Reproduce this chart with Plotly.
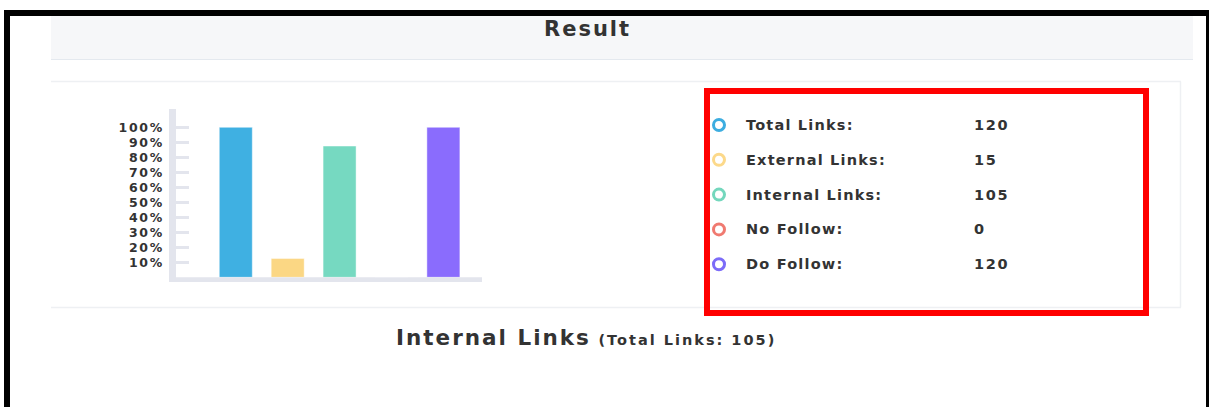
import plotly.graph_objects as go

# Link statistics
categories = ["Total Links", "External Links", "Internal Links", "No Follow", "Do Follow"]
counts = [120, 15, 105, 0, 120]
colors = ["#3fb0e2", "#fbd784", "#76d9c1", "#f07970", "#8a6cfd"]
legend_colors = ["#3dade0", "#fcd98a", "#74d7bd", "#f07a70", "#7c6cf8"]
tick_values = [10, 20, 30, 40, 50, 60, 70, 80, 90, 100]
tick_labels = ["10%", "20%", "30%", "40%", "50%", "60%", "70%", "80%", "90%", "100%"]

W, H = 1209, 407
FONT = "DejaVu Sans"
TEXT = "#333333"


def px(x):
    return x / W


def py(y):
    return 1 - y / H


def spaced(s, ls):
    return f"<span style='letter-spacing:{ls}px'>{s}</span>"


total = counts[0]
percent = [c / total * 100 for c in counts]

fig = go.Figure()
fig.add_trace(go.Bar(
    x=categories,
    y=percent,
    marker=dict(color=colors, line=dict(color="rgba(255,255,255,0.45)", width=1)),
    hoverinfo="skip",
    showlegend=False,
))

shapes = []
# page frame
shapes += [
    dict(type="rect", xref="paper", yref="paper", x0=px(4), x1=px(1209), y0=py(16), y1=py(10),
         fillcolor="black", line_width=0, layer="above"),
    dict(type="rect", xref="paper", yref="paper", x0=px(4), x1=px(10), y0=py(407), y1=py(10),
         fillcolor="black", line_width=0, layer="above"),
    dict(type="rect", xref="paper", yref="paper", x0=px(1206), x1=px(1209), y0=py(407), y1=py(10),
         fillcolor="black", line_width=0, layer="above"),
]
# card header
shapes += [
    dict(type="rect", xref="paper", yref="paper", x0=px(51), x1=px(1193), y0=py(60), y1=py(16),
         fillcolor="#f6f7f9", line_width=0, layer="below"),
    dict(type="line", xref="paper", yref="paper", x0=px(51), x1=px(1193), y0=py(59.5), y1=py(59.5),
         line=dict(color="#e4e9ef", width=1), layer="below"),
]
# inner panel borders
shapes += [
    dict(type="line", xref="paper", yref="paper", x0=px(51), x1=px(1181), y0=py(81.5), y1=py(81.5),
         line=dict(color="#eef0f3", width=1.5), layer="below"),
    dict(type="line", xref="paper", yref="paper", x0=px(1180.5), x1=px(1180.5), y0=py(81.5), y1=py(307.5),
         line=dict(color="#eef0f3", width=1.5), layer="below"),
    dict(type="line", xref="paper", yref="paper", x0=px(51), x1=px(1181), y0=py(307.5), y1=py(307.5),
         line=dict(color="#eef0f3", width=1.5), layer="below"),
]
# chart axis bars
shapes += [
    dict(type="rect", xref="paper", yref="paper", x0=px(169), x1=px(176), y0=py(282), y1=py(109),
         fillcolor="#e3e5ed", line_width=0, layer="below"),
    dict(type="rect", xref="paper", yref="paper", x0=px(169), x1=px(482), y0=py(282), y1=py(277.3),
         fillcolor="#e3e5ed", line_width=0, layer="below"),
]
# highlight box
shapes.append(dict(type="rect", xref="paper", yref="paper", x0=px(707), x1=px(1146), y0=py(313), y1=py(91),
                   line=dict(color="#ff0000", width=6), fillcolor="rgba(0,0,0,0)", layer="above"))

annotations = [
    dict(text=spaced("Result", 2), x=px(587), y=py(29), xref="paper", yref="paper", showarrow=False,
         xanchor="center", yanchor="middle", font=dict(family=FONT, size=21, color=TEXT, weight=600)),
    dict(text="<span style='font-size:21.5px;letter-spacing:2px'>Internal Links</span> "
              "<span style='font-size:14.5px;font-weight:bold;letter-spacing:2px'>(Total Links: 105)</span>",
         x=px(586), y=py(337), xref="paper", yref="paper", showarrow=False,
         xanchor="center", yanchor="middle", font=dict(family=FONT, size=21.5, color=TEXT, weight=600)),
]

row_top, row_gap = 125, 34.8
for i, (name, count, col) in enumerate(zip(categories, counts, legend_colors)):
    cy = row_top + i * row_gap
    r = 5.5
    shapes.append(dict(type="circle", xref="paper", yref="paper",
                       x0=px(719 - r), x1=px(719 + r), y0=py(cy + r), y1=py(cy - r),
                       line=dict(color=col, width=3), fillcolor="rgba(0,0,0,0)"))
    annotations.append(dict(text=spaced(name + ":", 1.2), x=px(744), y=py(cy), xref="paper", yref="paper",
                            showarrow=False, xanchor="left", yanchor="middle",
                            font=dict(family=FONT, size=14.5, color=TEXT, weight="bold")))
    annotations.append(dict(text=spaced(str(count), 1.6), x=px(972), y=py(cy), xref="paper", yref="paper",
                            showarrow=False, xanchor="left", yanchor="middle",
                            font=dict(family=FONT, size=14.5, color=TEXT, weight="bold")))

fig.update_layout(
    width=W, height=H, autosize=False,
    margin=dict(l=0, r=0, t=0, b=0),
    paper_bgcolor="white", plot_bgcolor="rgba(0,0,0,0)",
    bargap=0.364,
    shapes=shapes,
    annotations=annotations,
    xaxis=dict(domain=[px(176), px(482)], range=[-1.152, 4.744], showticklabels=False,
               showgrid=False, zeroline=False, showline=False, ticks="", fixedrange=True),
    yaxis=dict(domain=[py(277.3), py(109)], range=[0, 112.2], tickvals=tick_values,
               ticktext=[spaced(t, 1.7) for t in tick_labels],
               ticks="inside", ticklen=13, tickwidth=3, tickcolor="#e3e5ed",
               ticklabelstandoff=11,
               tickfont=dict(family=FONT, size=12.5, color=TEXT, weight="bold"),
               showgrid=False, zeroline=False, showline=False, fixedrange=True),
)

fig.write_html("out.html")
